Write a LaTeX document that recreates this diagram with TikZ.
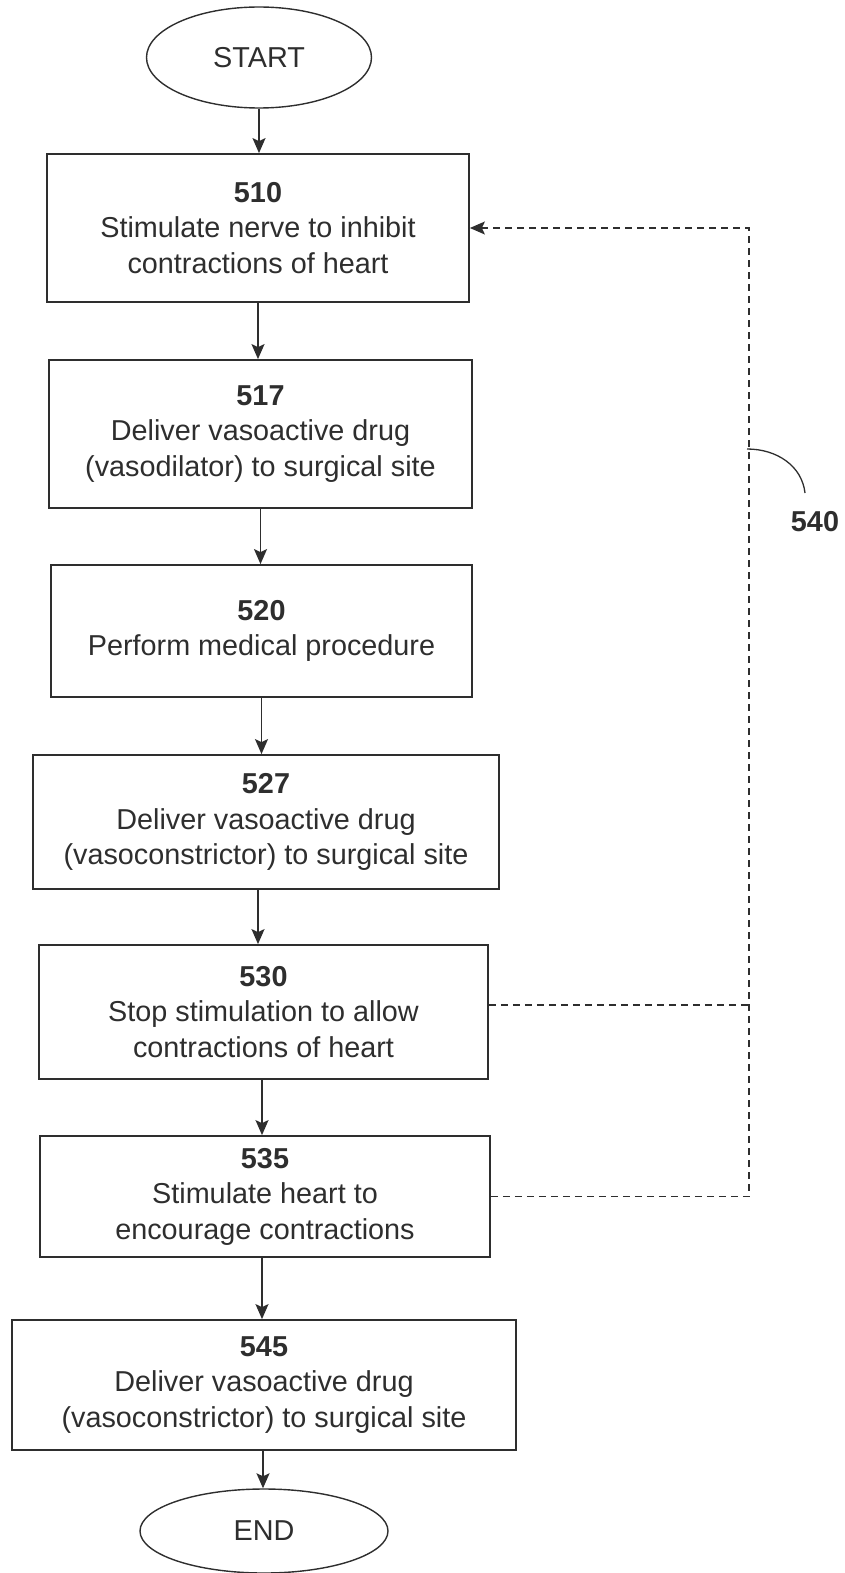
\documentclass[tikz,border=0pt]{standalone}
\usepackage{fontspec}
\setmainfont{Liberation Sans}
\usetikzlibrary{arrows.meta,shapes.geometric}
\definecolor{ink}{HTML}{2E2E2E}
\tikzset{
  box/.style={draw=ink, line width=1.8pt, rectangle, align=center, text=ink,
    font=\fontsize{28.8}{35.5}\selectfont, inner sep=0pt},
  term/.style={draw=ink, line width=1.4pt, ellipse, align=center, text=ink,
    font=\fontsize{28.8}{35.5}\selectfont, inner sep=0pt},
  arr/.style={draw=ink, line width=1.6pt, -{Stealth[length=15pt,width=13pt,inset=3pt]}},
  dash line/.style={draw=ink, line width=1.3pt, dash pattern=on 7pt off 5pt},
  dash arr/.style={dash line, -{Stealth[length=15pt,width=13pt,inset=3pt]}},
}
\begin{document}
\begin{tikzpicture}[x=1pt,y=-1pt]
\useasboundingbox (0,0) rectangle (844,1573);

\node[term, minimum width=225pt, minimum height=101pt] (start) at (259,57.5) {START};
\node[box, minimum width=422pt, minimum height=148pt] (s510) at (258,228)
  {\textbf{510}\\Stimulate nerve to inhibit\\contractions of heart};
\node[box, minimum width=423pt, minimum height=148pt] (s517) at (260.5,434)
  {\textbf{517}\\Deliver vasoactive drug\\(vasodilator) to surgical site};
\node[box, minimum width=421pt, minimum height=132pt] (s520) at (261.5,631)
  {\textbf{520}\\Perform medical procedure};
\node[box, minimum width=466pt, minimum height=134pt] (s527) at (266,822)
  {\textbf{527}\\Deliver vasoactive drug\\(vasoconstrictor) to surgical site};
\node[box, minimum width=449pt, minimum height=134pt] (s530) at (263.5,1012)
  {\textbf{530}\\Stop stimulation to allow\\contractions of heart};
\node[box, minimum width=450pt, minimum height=121pt] (s535) at (265,1196.5)
  {\textbf{535}\\Stimulate heart to\\encourage contractions};
\node[box, minimum width=504pt, minimum height=130pt] (s545) at (264,1385)
  {\textbf{545}\\Deliver vasoactive drug\\(vasoconstrictor) to surgical site};
\node[term, minimum width=248pt, minimum height=84pt] (end) at (264,1531) {END};

\draw[arr] (start.south) -- (start.south |- s510.north);
\draw[arr] (s510.south) -- (s510.south |- s517.north);
\draw[arr] (s517.south) -- (s517.south |- s520.north);
\draw[arr] (s520.south) -- (s520.south |- s527.north);
\draw[arr] (s527.south -| s510.south) -- (s510.south |- s530.north);
\draw[arr] (s530.south -| 262,0) -- (262,0 |- s535.north);
\draw[arr] (s535.south -| 262,0) -- (262,0 |- s545.north);
\draw[arr] (s545.south -| 263,0) -- (263,0 |- end.north);

\coordinate (cb) at (749,1196.5);
\coordinate (ct) at (749,228);
\coordinate (cm) at (749,1005);
\draw[dash line] (s530.east |- cm) -- (cm);
\draw[dash arr] (s535.east) -- (cb) -- (ct) -- (s510.east);

\coordinate (lead) at (747,449);
\node[text=ink, font=\fontsize{28.8}{35.5}\selectfont\bfseries] (l540) at (815,522) {540};
\draw[draw=ink, line width=1.3pt] (lead) .. controls (777,449) and (802,466) .. (805,493);
\end{tikzpicture}
\end{document}
